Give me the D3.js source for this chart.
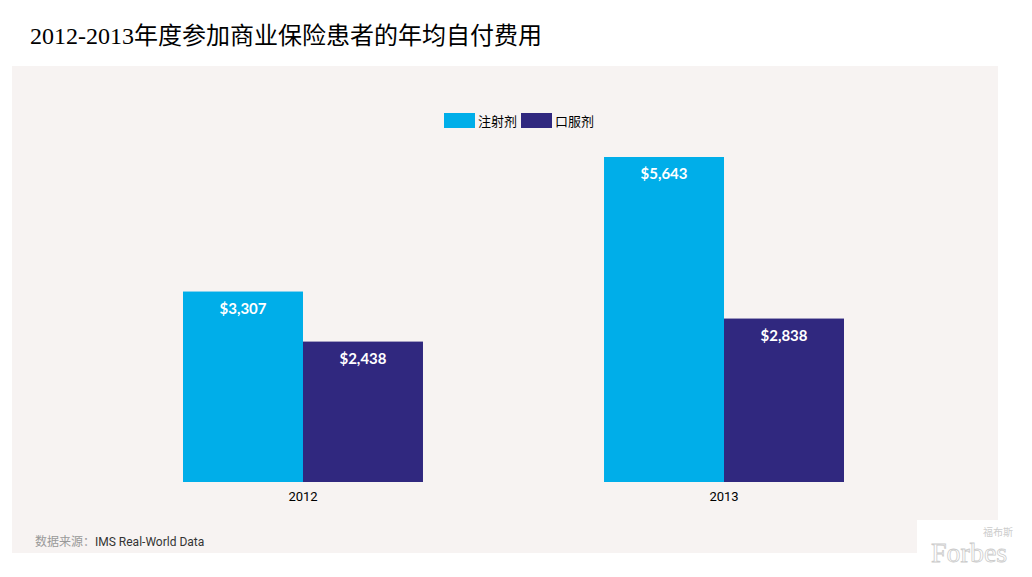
<!DOCTYPE html>
<html><head><meta charset="utf-8">
<script src="https://cdn.jsdelivr.net/npm/d3@7"></script>
<style>body{margin:0;background:#fff;}svg{display:block;}</style>
</head><body>
<svg id="c" width="1032" height="577"></svg>
<script>
const categories = ["2012", "2013"];
const seriesNames = ["注射剂", "口服剂"];
const injection = [3307, 5643];
const oral = [2438, 2838];
const colors = ["#00aee9", "#30287f"];
const title = "2012-2013年度参加商业保险患者的年均自付费用";

const svg = d3.select("#c");
svg.append("rect").attr("x",12).attr("y",66).attr("width",986).attr("height",487).attr("fill","#f7f3f2");

svg.append("text").attr("x",30).attr("y",44)
  .attr("font-family","'Liberation Serif','Noto Sans CJK SC',serif")
  .attr("font-size",24).attr("fill","#000").text(title);

const x0 = d3.scaleBand().domain(categories).range([98.8, 928.2]).paddingInner(0.43).paddingOuter(0.2);
const x1 = d3.scaleBand().domain(seriesNames).range([0, x0.bandwidth()]);
const y = d3.scaleLinear().domain([0, 5643]).range([482, 157]);

const data = categories.map((c,i)=>({cat:c, vals:[injection[i], oral[i]]}));
const g = svg.append("g");
const groups = g.selectAll("g.grp").data(data).join("g").attr("transform",d=>`translate(${x0(d.cat)},0)`);
groups.selectAll("rect").data(d=>d.vals.map((v,j)=>({v,s:seriesNames[j],j})))
  .join("rect").attr("x",d=>x1(d.s)).attr("y",d=>y(d.v))
  .attr("width",x1.bandwidth()).attr("height",d=>y(0)-y(d.v)).attr("fill",d=>colors[d.j]);
groups.selectAll("text.val").data(d=>d.vals.map((v,j)=>({v,s:seriesNames[j],j})))
  .join("text").attr("class","val").attr("x",d=>x1(d.s)+x1.bandwidth()/2).attr("y",d=>y(d.v)+22)
  .attr("text-anchor","middle").attr("font-family","Lato, 'Open Sans', sans-serif").attr("font-weight","bold")
  .attr("font-size",15).attr("fill","#fff").text(d=>"$"+d3.format(",")(d.v));

const xAxis = svg.append("g").attr("transform","translate(0,482)").call(d3.axisBottom(x0).tickSize(0).tickPadding(10));
xAxis.select(".domain").remove();
xAxis.selectAll("text").attr("font-family","Roboto, Arial, sans-serif").attr("font-size",13).attr("fill","#000");

const leg = svg.append("g");
const legX = [444, 521];
seriesNames.forEach((s,i)=>{
  leg.append("rect").attr("x",legX[i]).attr("y",113).attr("width",31).attr("height",15).attr("fill",colors[i]);
  leg.append("text").attr("x",legX[i]+34).attr("y",126).attr("font-family","'Noto Sans CJK SC',sans-serif")
    .attr("font-size",13).attr("fill","#000").text(s);
});

const src = svg.append("text").attr("x",35).attr("y",546).attr("font-size",12).attr("font-family","Roboto, 'Noto Sans CJK SC', sans-serif");
src.append("tspan").attr("fill","#999").text("数据来源：");
src.append("tspan").attr("fill","#333").text("IMS Real-World Data");

svg.append("rect").attr("x",917).attr("y",520).attr("width",115).attr("height",57).attr("fill","#fff");
svg.append("text").attr("x",983).attr("y",536).attr("font-family","'Noto Sans CJK SC',sans-serif").attr("font-size",10).attr("fill","#ccc").text("福布斯");
svg.append("text").attr("x",931).attr("y",562).attr("font-family","'Liberation Serif',serif").attr("font-size",28).attr("fill","#fff").attr("stroke","#ccc").attr("stroke-width",0.8).text("Forbes");
</script>
</body></html>
